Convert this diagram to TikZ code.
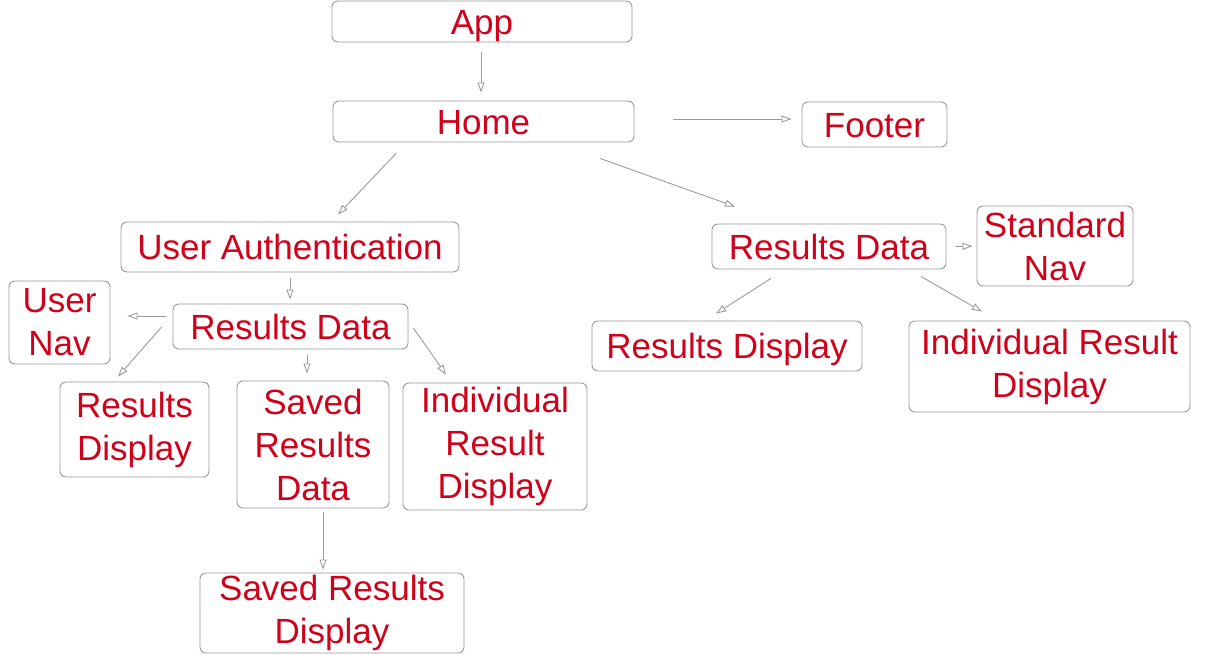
\documentclass[tikz,border=0pt]{standalone}
\usepackage{fontspec}
\setmainfont{Liberation Sans}
\usetikzlibrary{arrows.meta}
\definecolor{labelred}{HTML}{D0021B}
\definecolor{edgegray}{HTML}{9A9A9A}
\tikzset{
  box/.style={draw=edgegray, line width=0.9pt, rounded corners=6pt,
    inner sep=0pt, align=center, text=labelred,
    font=\fontsize{35}{43}\selectfont},
  oneline/.style={box, text height=25pt, text depth=0pt},
  link/.style={draw=edgegray, line width=0.9pt,
    -{Triangle[open, length=10pt, width=7pt]}}
}
\begin{document}
\begin{tikzpicture}[x=1pt, y=-1pt]
\useasboundingbox (0,0) rectangle (1209,654);

% top of the tree
\node[oneline, minimum width=300pt, minimum height=41pt] (app) at (482,21.5) {App};
\node[oneline, minimum width=301pt, minimum height=41pt] (home) at (483.5,121.5) {Home};
\node[oneline, minimum width=145pt, minimum height=45pt] (footer) at (874.5,124.5) {Footer};

% left branch
\node[oneline, minimum width=338pt, minimum height=50pt] (auth) at (290,247) {User Authentication};
\node[oneline, minimum width=235pt, minimum height=45pt] (dataL) at (290.5,326.5) {Results Data};
\node[box, minimum width=101pt, minimum height=83pt] (usernav) at (59.5,322.5) {User\\Nav};
\node[box, minimum width=149pt, minimum height=95pt] (dispL) at (134.5,429.5) {Results\\Display};
\node[box, minimum width=152pt, minimum height=127pt] (saved) at (313,444.5) {Saved\\Results\\Data};
\node[box, minimum width=184pt, minimum height=127pt] (indivL) at (495,446.5) {Individual\\Result\\Display};
\node[box, minimum width=264pt, minimum height=80pt] (savedDisp) at (332,613) {Saved Results\\Display};

% right branch
\node[oneline, minimum width=234pt, minimum height=45pt] (dataR) at (829,246.5) {Results Data};
\node[box, minimum width=156pt, minimum height=80pt] (stdnav) at (1055,246) {Standard\\Nav};
\node[oneline, minimum width=270pt, minimum height=50pt] (dispR) at (727,346) {Results Display};
\node[box, minimum width=281pt, minimum height=91pt] (indivR) at (1049.5,366.5) {Individual Result\\Display};

% connectors
\draw[link] ([xshift=-1pt,yshift=-10pt]app.south) -- ([xshift=-2.5pt,yshift=8pt]home.north);
\draw[link] ([xshift=39pt,yshift=2.5pt]home.east) -- ([xshift=-10pt,yshift=5.5pt]footer.west);
\draw[link] ([xshift=-87.5pt,yshift=-11pt]home.south) -- ([xshift=48pt,yshift=7pt]auth.north);
\draw[link] ([xshift=116.5pt,yshift=-16pt]home.south) -- ([xshift=-94pt,yshift=17pt]dataR.north);

\draw[link] ([yshift=-6pt]auth.south) -- ([xshift=-0.5pt,yshift=4pt]dataL.north);
\draw[link] ([xshift=-7pt,yshift=10.5pt]dataL.west) -- ([xshift=17pt,yshift=6.5pt]usernav.east);
\draw[link] ([xshift=-11pt,yshift=-0.5pt]dataL.west) -- ([xshift=-16.5pt,yshift=5pt]dispL.north);
\draw[link] ([xshift=16.5pt,yshift=-6pt]dataL.south) -- ([xshift=-6pt,yshift=7pt]saved.north);
\draw[link] ([xshift=5pt,yshift=-1.5pt]dataL.east) -- ([xshift=-49pt,yshift=8pt]indivL.north);
\draw[link] ([xshift=10pt,yshift=-4pt]saved.south) -- ([xshift=-9pt,yshift=3pt]savedDisp.north);

\draw[link] ([xshift=9pt]dataR.east) -- ([xshift=-4pt]stdnav.west);
\draw[link] ([xshift=-58pt,yshift=-9pt]dataR.south) -- ([xshift=-11pt,yshift=7pt]dispR.north);
\draw[link] ([xshift=92pt,yshift=-7pt]dataR.south) -- ([xshift=-67.5pt,yshift=9pt]indivR.north);
\end{tikzpicture}
\end{document}
